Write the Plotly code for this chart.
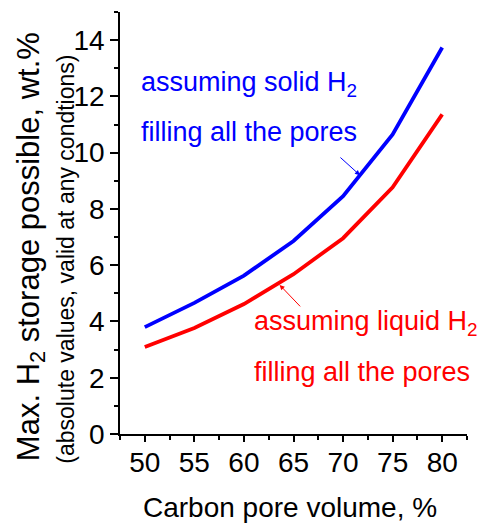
import plotly.graph_objects as go

pore_volume = [50, 55, 60, 65, 70, 75, 80]
solid_h2 = [3.80, 4.66, 5.63, 6.86, 8.45, 10.65, 13.74]
liquid_h2 = [3.09, 3.77, 4.62, 5.68, 6.96, 8.77, 11.36]

x_ticks = [50, 55, 60, 65, 70, 75, 80]
y_ticks = [0, 2, 4, 6, 8, 10, 12, 14]

FONT = "Arial, Liberation Sans, sans-serif"
BLUE = "#0000FF"
RED = "#FF0000"

fig = go.Figure()
fig.add_trace(go.Scatter(x=pore_volume, y=solid_h2, mode="lines",
                         line=dict(color=BLUE, width=3.8), showlegend=False))
fig.add_trace(go.Scatter(x=pore_volume, y=liquid_h2, mode="lines",
                         line=dict(color=RED, width=3.8), showlegend=False))

axis_common = dict(showline=True, linecolor="black", linewidth=1.5,
                   ticks="outside", tickcolor="black", tickwidth=1.5,
                   showgrid=False, zeroline=False, mirror=False,
                   tickfont=dict(family=FONT, size=28, color="black"))

fig.update_xaxes(range=[47.5, 82.5], tickvals=x_ticks, ticklen=6,
                 ticklabelstandoff=-3,
                 minor=dict(ticks="outside", ticklen=4, dtick=2.5, tick0=47.5,
                            tickcolor="black", tickwidth=1.5, showgrid=False),
                 **axis_common)
fig.update_yaxes(range=[0, 15], tickvals=y_ticks, ticklen=8,
                 minor=dict(ticks="outside", ticklen=4, dtick=1, tick0=0,
                            tickcolor="black", tickwidth=1.5, showgrid=False),
                 **axis_common)

annotations = [
    # axis titles
    dict(text="Carbon pore volume, %", xref="paper", yref="paper",
         x=0.49, y=(434.5 - 508) / 422.5, showarrow=False,
         font=dict(family=FONT, size=28, color="black"),
         xanchor="center", yanchor="middle"),
    dict(text="Max. H<sub>2</sub> storage possible, wt.%", xref="paper", yref="paper",
         x=(31 - 120) / 346.7, y=(434.5 - 246.5) / 422.5, showarrow=False,
         textangle=-90, font=dict(family=FONT, size=31, color="black"),
         xanchor="center", yanchor="middle"),
    dict(text="(absolute values, valid at any condtions)", xref="paper", yref="paper",
         x=(66 - 120) / 346.7, y=(434.5 - 259) / 422.5, showarrow=False,
         textangle=-90, font=dict(family=FONT, size=23, color="black"),
         xanchor="center", yanchor="middle"),
    # series labels
    dict(text="assuming solid H<sub>2</sub>", x=49.4, y=12.45, showarrow=False,
         xanchor="left", yanchor="middle", font=dict(family=FONT, size=27, color=BLUE)),
    dict(text="filling all the pores", x=49.4, y=10.75, showarrow=False,
         xanchor="left", yanchor="middle", font=dict(family=FONT, size=27, color=BLUE)),
    dict(text="assuming liquid H<sub>2</sub>", x=60.8, y=3.95, showarrow=False,
         xanchor="left", yanchor="middle", font=dict(family=FONT, size=27, color=RED)),
    dict(text="filling all the pores", x=60.8, y=2.2, showarrow=False,
         xanchor="left", yanchor="middle", font=dict(family=FONT, size=27, color=RED)),
    # arrows
    dict(x=71.7, y=9.2, ax=-21, ay=-19, text="", showarrow=True,
         arrowhead=2, arrowsize=1, arrowwidth=1, arrowcolor=BLUE),
    dict(x=63.6, y=5.3, ax=22, ay=23, text="", showarrow=True,
         arrowhead=2, arrowsize=1, arrowwidth=1, arrowcolor=RED),
]

fig.update_layout(width=479, height=525,
                  margin=dict(l=120, r=12, t=12, b=90.5, autoexpand=False),
                  plot_bgcolor="white", paper_bgcolor="white",
                  annotations=annotations,
                  font=dict(family=FONT))

fig.write_html("out.html")
